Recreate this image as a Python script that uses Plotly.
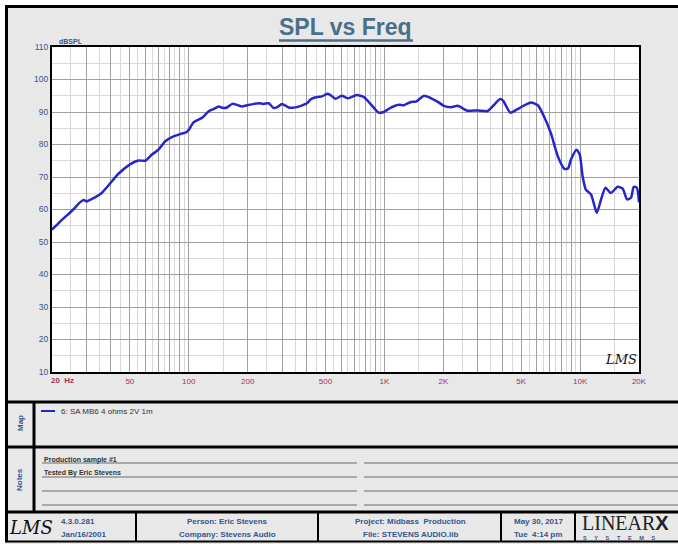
import plotly.graph_objects as go

# ---------------- data ----------------
freq_hz = [20, 22, 25.7, 27.8, 29.1, 30.1, 32.6, 35.9, 40.4, 43.7, 50.1, 55.3, 60, 64.8, 70, 75.8, 82, 90.4,
           96.6, 100, 105.8, 113.6, 118, 126.4, 133.8, 142.2, 148, 156.9, 166.6, 176.4, 187.2, 197, 214.6,
           227.6, 241.4, 256, 271.9, 283, 299.8, 324, 357, 385, 402, 422, 453, 480, 510, 530, 562, 605,
           653, 720, 786, 848, 935, 992, 1068, 1184, 1258, 1366, 1450, 1594, 1724, 1866, 2014, 2180, 2360,
           2420, 2660, 2989, 3370, 3570, 3902, 4040, 4400, 4770, 5160, 5620, 6100, 6540, 7090, 7690, 8320,
           8670, 8970, 9580, 9960, 10300, 10700, 11380, 12170, 12800, 13480, 14370, 15570, 16500, 17400,
           18200, 18800, 19500, 20000]
spl_db = [53.8, 56.3, 60.0, 62.2, 62.9, 62.5, 63.5, 65.1, 68.6, 71.0, 73.9, 75.1, 75.0, 76.9, 78.4, 81.0,
          82.3, 83.2, 83.7, 84.5, 86.8, 87.8, 88.4, 90.2, 90.9, 91.7, 91.3, 91.4, 92.5, 92.2, 91.7, 92.0,
          92.5, 92.7, 92.5, 92.7, 91.2, 91.5, 92.5, 91.4, 91.5, 92.2, 92.7, 94.0, 94.6, 94.8, 95.6, 95.2,
          94.1, 95.0, 94.2, 95.2, 94.6, 92.5, 89.8, 90.0, 91.2, 92.2, 92.1, 93.1, 93.2, 95.0, 94.3, 93.2,
          91.9, 91.5, 91.9, 91.7, 90.4, 90.5, 90.3, 91.7, 94.0, 93.5, 89.8, 90.8, 92.0, 92.9, 92.0, 88.6,
          83.5, 76.4, 72.5, 72.6, 75.3, 78.4, 76.9, 70.2, 66.1, 64.6, 59.0, 63.1, 66.7, 65.1, 67.0, 66.4,
          63.1, 63.6, 67.0, 66.7, 62.2]
series_name = "6: SA MB6 4 ohms 2V 1m"

x_major_vals = [20, 30, 40, 50, 60, 70, 80, 90, 100, 200, 300, 400, 500, 600, 700, 800, 900,
                1000, 2000, 3000, 4000, 5000, 6000, 7000, 8000, 9000, 10000, 20000]
x_labels = {50: "50", 100: "100", 200: "200", 500: "500", 1000: "1K", 2000: "2K",
            5000: "5K", 10000: "10K", 20000: "20K"}
x_first_label = "20  Hz"
x_minor_vals = [25, 35, 45, 55, 65, 75, 85, 95, 150, 250, 350, 450, 550, 650, 750, 850, 950,
                1500, 2500, 3500, 4500, 5500, 6500, 7500, 8500, 9500, 15000]
y_tick_vals = [10, 20, 30, 40, 50, 60, 70, 80, 90, 100, 110]

notes = ["Production sample #1", "Tested By Eric Stevens"]
footer = {
    "version": ["4.3.0.281", "Jan/16/2001"],
    "person": ["Person: Eric Stevens", "Company: Stevens Audio"],
    "project": ["Project: Midbass  Production", "File: STEVENS AUDIO.lib"],
    "date": ["May 30, 2017", "Tue  4:14 pm"],
}

# ---------------- geometry (page pixels) ----------------
WIDTH, HEIGHT = 678, 544
L, T, R, B = 52, 47, 639, 372
PW, PH = R - L, B - T


def px(x):
    return (x - L) / PW


def py(y):
    return (B - y) / PH


FONT = "Liberation Sans, Arial, sans-serif"
BLUE_TXT = "#34558f"
RED_TXT = "#a82c5c"
BG = "#e8e8e8"

fig = go.Figure()
fig.add_trace(go.Scatter(
    x=freq_hz, y=spl_db, mode="lines", name=series_name,
    line=dict(color="#2626c9", width=2.5, shape="spline", smoothing=0.6),
    showlegend=False, hoverinfo="x+y",
))

shapes = []
annotations = []


def hline(x0, x1, y, color="black", w=3):
    shapes.append(dict(type="line", xref="paper", yref="paper", x0=px(x0), x1=px(x1),
                       y0=py(y), y1=py(y), line=dict(color=color, width=w)))


def vline(x, y0, y1, color="black", w=3):
    shapes.append(dict(type="line", xref="paper", yref="paper", x0=px(x), x1=px(x),
                       y0=py(y0), y1=py(y1), line=dict(color=color, width=w)))


def text(x, y, s, size=8, color=BLUE_TXT, xanchor="center", family=FONT, angle=0, bold=True):
    annotations.append(dict(xref="paper", yref="paper", x=px(x), y=py(y), text=(f"<b>{s}</b>" if bold else s),
                            showarrow=False, xanchor=xanchor, yanchor="middle",
                            font=dict(family=family, size=size, color=color), textangle=angle))


# white margin outside the frame
shapes.append(dict(type="rect", xref="paper", yref="paper", x0=px(-5), x1=px(5), y0=py(-5), y1=py(560),
                   fillcolor="white", line=dict(width=0), layer="below"))
shapes.append(dict(type="rect", xref="paper", yref="paper", x0=px(-5), x1=px(700), y0=py(-5), y1=py(5),
                   fillcolor="white", line=dict(width=0), layer="below"))

# frame lines
hline(5, 700, 6.5, w=3)
vline(6.5, 5, 542, w=3)
hline(5, 700, 402, w=3)
hline(5, 700, 447, w=3)
hline(5, 700, 512, w=3)
hline(5, 700, 541.5, w=2)
vline(34, 402, 512, w=3)
for xd in [136, 318, 501, 575]:
    vline(xd, 512, 542, w=2)

# notes lines
for yl in [463, 477, 491, 505]:
    hline(42, 357, yl, color="#6a6a6a", w=1)
    hline(364, 680, yl, color="#6a6a6a", w=1)

# title + underline
text(346, 27, "SPL vs Freq", size=23, color="#4b6f88")
hline(279, 413, 40.5, color="#4b6f88", w=2.5)

# axis unit labels
text(57, 41.5, "dBSPL", size=7, xanchor="left")
text(49, 380, x_first_label, size=8, color=RED_TXT, xanchor="left")

# LMS mark inside plot
text(621, 359, "<i>LMS</i>", size=13, color="#111111", family="DejaVu Serif, serif", bold=False)

# map legend
hline(41, 55, 411, color="#2626c9", w=2)
text(59, 411, series_name, size=8, color="#333333", xanchor="left", bold=False)
text(20, 423, "Map", size=8, angle=-90)
text(20, 480, "Notes", size=8, angle=-90)

# notes text
text(42, 459.5, notes[0], size=7, color="#333333", xanchor="left")
text(42, 473.5, notes[1], size=7, color="#333333", xanchor="left")

# footer
text(31, 527, "<i>LMS</i>", size=18, color="#111111", family="DejaVu Serif, serif", bold=False)
text(59, 521, footer["version"][0], size=8, xanchor="left")
text(59, 534, footer["version"][1], size=8, xanchor="left")
for key, cx in [("person", 227), ("project", 410), ("date", 538)]:
    text(cx, 521, footer[key][0], size=8)
    text(cx, 534, footer[key][1], size=8)
text(580, 522.5, "LINEAR<span style='font-family:Liberation Sans'><b>X</b></span>", size=20,
     color="#222222", xanchor="left", family="Liberation Serif, serif", bold=False)
text(581, 537.5, "S\u00a0\u00a0\u00a0\u00a0\u00a0Y\u00a0\u00a0\u00a0\u00a0\u00a0S\u00a0\u00a0\u00a0\u00a0\u00a0T\u00a0\u00a0\u00a0\u00a0\u00a0E\u00a0\u00a0\u00a0\u00a0\u00a0M\u00a0\u00a0\u00a0\u00a0\u00a0S",
     size=5.5, xanchor="left")

fig.update_layout(
    width=WIDTH, height=HEIGHT, autosize=False,
    margin=dict(l=L, r=WIDTH - R, t=T, b=HEIGHT - B, pad=0),
    paper_bgcolor=BG, plot_bgcolor="white",
    shapes=shapes, annotations=annotations,
    xaxis=dict(
        type="log", range=[1.30103, 4.30103],
        tickmode="array", tickvals=x_major_vals,
        ticktext=[x_labels.get(v, "") for v in x_major_vals],
        tickfont=dict(family=FONT, size=8, color=RED_TXT),
        showgrid=True, gridcolor="#a0a0a0", gridwidth=1,
        minor=dict(tickmode="array", tickvals=x_minor_vals, showgrid=True, gridcolor="#d8d8d8", gridwidth=1),
        showline=True, linecolor="black", linewidth=2, mirror=True,
        ticks="", zeroline=False, tickangle=0,
    ),
    yaxis=dict(
        range=[10, 110], tickmode="array", tickvals=y_tick_vals,
        ticktext=[str(v) for v in y_tick_vals],
        tickfont=dict(family=FONT, size=8.5, color=BLUE_TXT),
        showgrid=True, gridcolor="#a0a0a0", gridwidth=1,
        minor=dict(dtick=5, showgrid=True, gridcolor="#d8d8d8", gridwidth=1),
        showline=True, linecolor="black", linewidth=2, mirror=True,
        ticks="", zeroline=False,
    ),
)

fig.write_html(
    "out.html",
    config={"displayModeBar": False},
    post_script="document.body.style.margin='0';document.body.style.overflow='hidden';",
)
